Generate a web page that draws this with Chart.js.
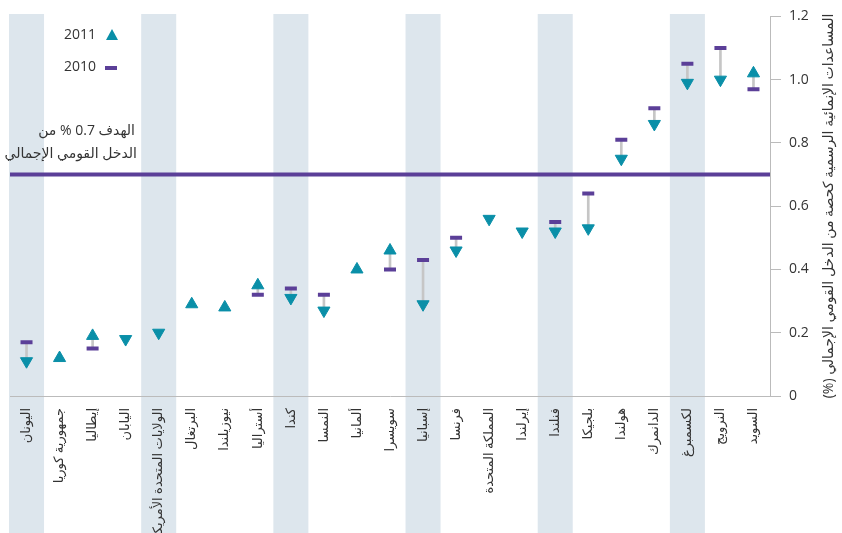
<!DOCTYPE html>
<html lang="ar">
<head>
<meta charset="utf-8">
<script src="https://cdn.jsdelivr.net/npm/chart.js@4/dist/chart.umd.min.js"></script>
<style>
  html, body { margin: 0; padding: 0; background: #fff; }
  #wrap { width: 842px; height: 533px; }
</style>
</head>
<body>
<div id="wrap"><canvas id="odaChart" width="842" height="533"></canvas></div>
<script>
// البيانات
const countries = [
  "اليونان", "جمهورية كوريا", "إيطاليا", "اليابان", "الولايات المتحدة الأمريكية",
  "البرتغال", "نيوزيلندا", "أستراليا", "كندا", "النمسا", "ألمانيا", "سويسرا",
  "إسبانيا", "فرنسا", "المملكة المتحدة", "إيرلندا", "فنلندا", "بلجيكا",
  "هولندا", "الدانمرك", "لكسمبرغ", "النرويج", "السويد"
];
const oda2011 = [0.11, 0.12, 0.19, 0.18, 0.20, 0.29, 0.28, 0.35, 0.31, 0.27, 0.40, 0.46,
                 0.29, 0.46, 0.56, 0.52, 0.52, 0.53, 0.75, 0.86, 0.99, 1.00, 1.02];
const oda2010 = [0.17, null, 0.15, null, null, null, null, 0.32, 0.34, 0.32, null, 0.40,
                 0.43, 0.50, null, null, 0.55, 0.64, 0.81, 0.91, 1.05, 1.10, 0.97];
// اتجاه التغيير في 2011 (1 = ارتفاع، -1 = انخفاض)
const trend = [-1, 1, 1, -1, -1, 1, 1, 1, -1, -1, 1, 1,
               -1, -1, -1, -1, -1, -1, -1, -1, -1, -1, 1];
const shadedIdx = [0, 4, 8, 12, 16, 20];
const yTicks = [0, 0.2, 0.4, 0.6, 0.8, 1.0, 1.2];
const targetValue = 0.7;

const TEAL = '#0a8fa8';
const PURPLE = '#5b3f98';
const BAND = '#dde6ed';
const TEXT = '#333333';
const FONT = "'Open Sans', 'DejaVu Sans', sans-serif";

const decorPlugin = {
  id: 'decor',
  beforeDraw(chart) {
    const ctx = chart.ctx;
    const x = chart.scales.x;
    const w = (x.getPixelForValue(1) - x.getPixelForValue(0)) * 1.06;
    ctx.save();
    ctx.fillStyle = BAND;
    shadedIdx.forEach(i => {
      const cx = x.getPixelForValue(i);
      ctx.fillRect(cx - w / 2, 14, w, chart.height - 14);
    });
    ctx.restore();
  },
  beforeDatasetsDraw(chart) {
    const ctx = chart.ctx;
    const area = chart.chartArea;
    const y = chart.scales.y.getPixelForValue(targetValue);
    ctx.save();
    ctx.strokeStyle = PURPLE;
    ctx.lineWidth = 4;
    ctx.beginPath();
    ctx.moveTo(area.left, y);
    ctx.lineTo(area.right, y);
    ctx.stroke();
    ctx.restore();
  },
  afterDraw(chart) {
    const ctx = chart.ctx;
    ctx.save();
    ctx.fillStyle = TEXT;
    ctx.font = '14px ' + FONT;
    ctx.textBaseline = 'middle';
    ctx.textAlign = 'right';
    // مفتاح الرسم
    ctx.fillText('2011', 96, 35);
    ctx.fillText('2010', 96, 67);
    ctx.fillStyle = TEAL;
    ctx.beginPath();
    ctx.moveTo(112, 29);
    ctx.lineTo(118, 40);
    ctx.lineTo(106, 40);
    ctx.closePath();
    ctx.fill();
    ctx.fillStyle = PURPLE;
    ctx.fillRect(105, 66, 12, 4);
    // نص الهدف
    ctx.direction = 'rtl';
    ctx.fillStyle = TEXT;
    ctx.fillText('الهدف 0.7 % من', 135, 131);
    ctx.fillText('الدخل القومي الإجمالي', 137, 154);
    // عنوان المحور
    ctx.translate(829, 206);
    ctx.rotate(-Math.PI / 2);
    ctx.textAlign = 'center';
    ctx.fillText('المساعدات الإنمائية الرسمية كحصة من الدخل القومي الإجمالي (%)', 0, 0);
    ctx.restore();
  }
};

const ctx = document.getElementById('odaChart').getContext('2d');
new Chart(ctx, {
  data: {
    labels: countries,
    datasets: [
      {
        type: 'bar',
        label: 'change',
        data: oda2010.map((v, i) => v == null ? null : [v, oda2011[i]]),
        backgroundColor: '#c6c6c6',
        barThickness: 2,
        order: 3
      },
      {
        type: 'line',
        label: '2010',
        data: oda2010,
        showLine: false,
        pointStyle: 'line',
        pointRadius: 6,
        pointBorderWidth: 4,
        borderColor: PURPLE,
        backgroundColor: PURPLE,
        order: 2
      },
      {
        type: 'line',
        label: '2011',
        data: oda2011,
        showLine: false,
        pointStyle: 'triangle',
        pointRadius: 7,
        pointRotation: trend.map(t => t > 0 ? 0 : 180),
        pointBorderWidth: 1,
        borderColor: TEAL,
        backgroundColor: TEAL,
        order: 1
      }
    ]
  },
  options: {
    responsive: false,
    animation: false,
    events: [],
    layout: { padding: { left: 8, top: 15, right: 0, bottom: 0 } },
    plugins: {
      legend: { display: false },
      tooltip: { enabled: false }
    },
    scales: {
      x: {
        type: 'category',
        offset: true,
        grid: { display: false },
        border: { display: true, color: '#bbbbbb', width: 1 },
        ticks: {
          autoSkip: false,
          maxRotation: 90,
          minRotation: 90,
          padding: 4,
          color: TEXT,
          font: { size: 13, family: FONT }
        },
        afterFit(scale) { scale.height = 137; }
      },
      y: {
        position: 'right',
        min: 0,
        max: 1.2,
        afterBuildTicks(scale) { scale.ticks = yTicks.map(v => ({ value: v })); },
        grid: { drawOnChartArea: false, tickLength: 11, color: '#bbbbbb' },
        border: { display: true, color: '#bbbbbb', width: 1 },
        ticks: {
          padding: 8,
          color: TEXT,
          font: { size: 14, family: FONT },
          callback: v => v === 0 ? '0' : v.toFixed(1)
        },
        afterFit(scale) { scale.width = 72; }
      }
    }
  },
  plugins: [decorPlugin]
});
</script>
</body>
</html>
